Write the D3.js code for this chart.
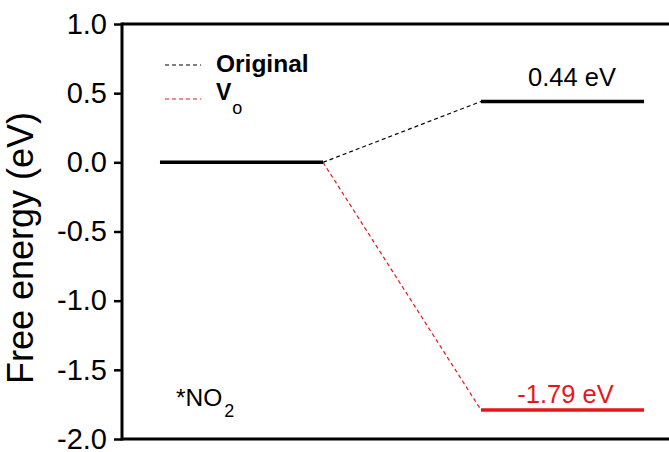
<!DOCTYPE html>
<html>
<head>
<meta charset="utf-8">
<script src="https://cdn.jsdelivr.net/npm/d3@7"></script>
<style>
  html, body { margin: 0; padding: 0; background: #fff; }
  svg { display: block; font-family: "Liberation Sans", Arial, sans-serif; }
</style>
</head>
<body>
<svg id="chart" width="669" height="452"></svg>
<script>
// Reaction steps (x positions of the energy levels)
const steps = [0, 1];
// Free energy of each level per surface
const originalEnergy = [0.0, 0.44];
const vacancyEnergy = [0.0, -1.79];
// Value labels drawn above the final levels
const originalLabel = "0.44 eV";
const vacancyLabel = "-1.79 eV";
// Y axis ticks
const yTicks = [1.0, 0.5, 0.0, -0.5, -1.0, -1.5, -2.0];

const svg = d3.select("#chart");
const W = 669, H = 452;
const plotLeft = 122, plotTop = 24, plotBottom = 439;

const y = d3.scaleLinear().domain([-2.0, 1.0]).range([plotBottom, plotTop]);
const x = d3.scaleLinear().domain([0, 1]).range([241.5, 562.5]);
const halfW = 0.254; // half width of a level bar, in step units

// frame: top and bottom lines run off to the right edge
svg.append("line").attr("x1", plotLeft).attr("x2", W + 10)
  .attr("y1", plotTop).attr("y2", plotTop).attr("stroke", "#000").attr("stroke-width", 3);
svg.append("line").attr("x1", plotLeft).attr("x2", W + 10)
  .attr("y1", plotBottom).attr("y2", plotBottom).attr("stroke", "#000").attr("stroke-width", 3);

// y axis
const yAxis = d3.axisLeft(y).tickValues(yTicks).tickSize(8).tickPadding(7)
  .tickFormat(d => d3.format(".1f")(d).replace("\u2212", "-"));
const gy = svg.append("g").attr("transform", `translate(${plotLeft},0)`).call(yAxis);
gy.select(".domain").attr("stroke", "#000").attr("stroke-width", 3)
  .attr("d", `M0,${plotTop - 1.5}V${plotBottom + 1.5}`);
gy.selectAll(".tick line").attr("stroke", "#000").attr("stroke-width", 2.5);
gy.selectAll(".tick text").attr("fill", "#000")
  .style("font-family", "'Liberation Sans', Arial, sans-serif").style("font-size", "29px");

// y axis title
svg.append("text")
  .attr("transform", `translate(33,248) rotate(-90)`)
  .attr("text-anchor", "middle")
  .style("font-size", "36px")
  .attr("fill", "#000")
  .text("Free energy (eV)");

// dashed connectors between levels
function connector(energies, color) {
  svg.append("line")
    .attr("x1", x(steps[0] + halfW)).attr("y1", y(energies[0]))
    .attr("x2", x(steps[1] - halfW)).attr("y2", y(energies[1]))
    .attr("stroke", color).attr("stroke-width", 1.2)
    .attr("stroke-dasharray", "4,3");
}
connector(originalEnergy, "#000");
connector(vacancyEnergy, "#e8161b");

// energy levels; a vacancy level that coincides with the original one is shown in black only
function levels(energies, color, keep) {
  svg.append("g").selectAll("line").data(steps.filter(keep)).join("line")
    .attr("x1", d => x(d - halfW)).attr("x2", d => x(d + halfW))
    .attr("y1", d => y(energies[d])).attr("y2", d => y(energies[d]))
    .attr("stroke", color).attr("stroke-width", 3.5);
}
levels(vacancyEnergy, "#e8161b", d => vacancyEnergy[d] !== originalEnergy[d]);
levels(originalEnergy, "#000", () => true);

// value labels
svg.append("text").attr("x", x(steps[1]) + 9.5).attr("y", y(originalEnergy[1]) - 15)
  .attr("text-anchor", "middle").style("font-size", "25.5px").attr("fill", "#000")
  .text(originalLabel);
svg.append("text").attr("x", x(steps[1]) + 3).attr("y", y(vacancyEnergy[1]) - 7)
  .attr("text-anchor", "middle").style("font-size", "25.5px").attr("fill", "#e8161b")
  .text(vacancyLabel);

// legend
const legend = svg.append("g");
legend.append("line").attr("x1", 165).attr("x2", 201).attr("y1", 65).attr("y2", 65)
  .attr("stroke", "#000").attr("stroke-width", 1.2).attr("stroke-dasharray", "4,3");
legend.append("text").attr("x", 216).attr("y", 72)
  .style("font-size", "24.5px").style("font-weight", "bold").attr("fill", "#000")
  .text("Original");
legend.append("line").attr("x1", 165).attr("x2", 201).attr("y1", 99).attr("y2", 99)
  .attr("stroke", "#e8161b").attr("stroke-width", 1.2).attr("stroke-dasharray", "4,3");
const vt = legend.append("text").attr("x", 216).attr("y", 100)
  .style("font-size", "23px").style("font-weight", "bold").attr("fill", "#000");
vt.append("tspan").text("V");
vt.append("tspan").attr("dx", 1).attr("dy", 14).style("font-size", "18px").style("font-weight", "normal").text("o");

// adsorbate label
const ads = svg.append("text").attr("x", 176).attr("y", 406)
  .style("font-size", "24.5px").attr("fill", "#000");
ads.append("tspan").text("*NO");
ads.append("tspan").attr("dx", 2).attr("dy", 11).style("font-size", "18px").text("2");
</script>
</body>
</html>
